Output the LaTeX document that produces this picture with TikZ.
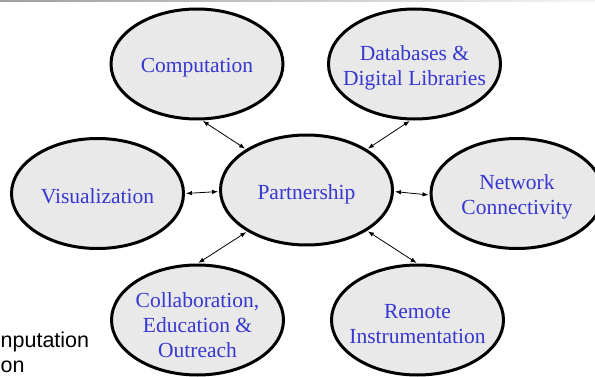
\documentclass[tikz,border=0pt]{standalone}
\usepackage{fontspec}
\setmainfont{Liberation Serif}
\newfontfamily\arialfont{Liberation Sans}
\usetikzlibrary{shapes.geometric,arrows.meta}
\definecolor{txtblue}{RGB}{55,55,210}
\definecolor{ellfill}{RGB}{233,233,233}
\tikzset{
  bubble/.style={ellipse, draw=black, line width=3pt, fill=ellfill,
    minimum width=172pt, minimum height=110pt, inner sep=0pt},
  bubbletext/.style={text=txtblue, align=center, inner sep=0pt,
    font=\fontsize{21.5}{25}\selectfont},
  link/.style={line width=0.8pt, {Latex[length=6pt,width=4.5pt]}-{Latex[length=6pt,width=4.5pt]}, shorten <=1pt, shorten >=1pt},
  sidetext/.style={font=\arialfont\fontsize{21.5}{25}\selectfont, inner sep=0pt, text=black}
}
\begin{document}
\begin{tikzpicture}[x=1pt,y=1pt]
\useasboundingbox (0,0) rectangle (595,376);
\clip (0,0) rectangle (595,376);
\shade[left color=gray!75, right color=gray!8] (0,374.5) rectangle (595,376);
\node[sidetext, anchor=base west] (st1) at (0.5,29) {nputation};
\node[sidetext, anchor=base west] (st2) at (0.5,4) {on};
\node[bubble] (comp) at (197,312) {};
\node[bubble] (db) at (414.5,312) {};
\node[bubble] (vis) at (97.5,182.5) {};
\node[bubble] (part) at (306.5,186) {};
\node[bubble] (net) at (517,182.5) {};
\node[bubble] (collab) at (197.5,56) {};
\node[bubble] (remote) at (417.5,56) {};
\node[bubbletext, yshift=-4pt] (tcomp) at (comp.center) {Computation};
\node[bubbletext, yshift=-4pt] (tdb) at (db.center) {Databases \&\\Digital Libraries};
\node[bubbletext, yshift=-3pt] (tvis) at (vis.center) {Visualization};
\node[bubbletext, yshift=-4pt] (tpart) at (part.center) {Partnership};
\node[bubbletext, yshift=-3.5pt] (tnet) at (net.center) {Network\\Connectivity};
\node[bubbletext, yshift=-5pt] (tcollab) at (collab.center) {Collaboration,\\Education \&\\Outreach};
\node[bubbletext, yshift=-4pt] (tremote) at (remote.center) {Remote\\Instrumentation};
\draw[link] (comp.-85) -- (part.146);
\draw[link] (db.-94) -- (part.34);
\draw[link] (vis.0) -- (part.181);
\draw[link] (net.181) -- (part.-1);
\draw[link] (collab.90) -- (part.215);
\draw[link] (remote.90) -- (part.-34);
\end{tikzpicture}
\end{document}
